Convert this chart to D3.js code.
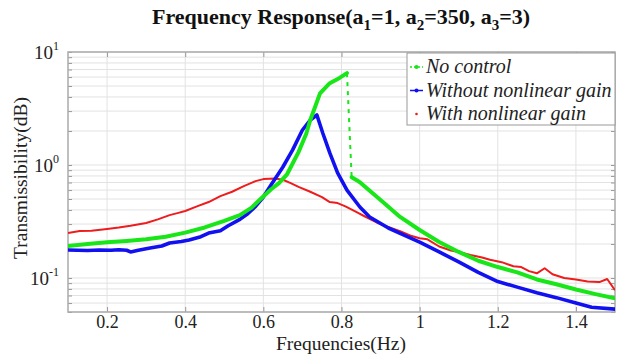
<!DOCTYPE html>
<html>
<head>
<meta charset="utf-8">
<script src="https://cdn.jsdelivr.net/npm/d3@7"></script>
<style>
  body { margin: 0; background: #fff; }
  svg { display: block; font-family: "Liberation Serif", "Times New Roman", serif; }
</style>
</head>
<body>
<svg id="chart"></svg>
<script>
// Frequency response, values

// No control (green)
const freqNoControl = [0.10, 0.15, 0.20, 0.25, 0.30, 0.35, 0.40, 0.45, 0.50, 0.54, 0.57, 0.59, 0.62, 0.64, 0.66, 0.69, 0.71, 0.72, 0.73, 0.745, 0.77, 0.795, 0.814, 0.826, 0.84, 0.85, 0.87, 0.90, 0.95, 1.00, 1.05, 1.10, 1.15, 1.20, 1.25, 1.30, 1.35, 1.40, 1.45, 1.50];
const noControl = [0.192, 0.200, 0.207, 0.213, 0.220, 0.232, 0.252, 0.280, 0.320, 0.360, 0.420, 0.490, 0.610, 0.690, 0.820, 1.30, 1.90, 2.50, 3.10, 4.30, 5.30, 5.90, 6.50, 0.780, 0.730, 0.690, 0.600, 0.490, 0.347, 0.266, 0.208, 0.170, 0.142, 0.125, 0.112, 0.097, 0.088, 0.079, 0.072, 0.066];
// index where the curve jumps down (drawn dashed)
const jumpIndex = 22;

// Without nonlinear gain (blue)
const freqWithout = [0.10, 0.15, 0.18, 0.21, 0.23, 0.25, 0.26, 0.28, 0.31, 0.34, 0.36, 0.39, 0.41, 0.44, 0.46, 0.49, 0.51, 0.54, 0.56, 0.58, 0.60, 0.62, 0.65, 0.675, 0.70, 0.72, 0.737, 0.752, 0.77, 0.79, 0.814, 0.847, 0.872, 0.92, 0.96, 1.00, 1.05, 1.10, 1.15, 1.20, 1.25, 1.30, 1.35, 1.40, 1.44, 1.50];
const withoutGain = [0.177, 0.175, 0.177, 0.176, 0.178, 0.176, 0.170, 0.176, 0.184, 0.192, 0.204, 0.210, 0.217, 0.232, 0.250, 0.262, 0.290, 0.330, 0.370, 0.430, 0.520, 0.670, 0.960, 1.36, 2.04, 2.50, 2.77, 1.92, 1.28, 0.850, 0.600, 0.425, 0.347, 0.277, 0.240, 0.208, 0.170, 0.139, 0.112, 0.093, 0.083, 0.074, 0.067, 0.060, 0.055, 0.053];

// With nonlinear gain (red)
const freqWith = [0.10, 0.13, 0.16, 0.20, 0.23, 0.26, 0.30, 0.33, 0.36, 0.38, 0.40, 0.43, 0.46, 0.49, 0.52, 0.55, 0.58, 0.60, 0.63, 0.65, 0.67, 0.69, 0.72, 0.75, 0.77, 0.79, 0.81, 0.84, 0.86, 0.89, 0.91, 0.95, 0.98, 1.00, 1.02, 1.05, 1.08, 1.10, 1.13, 1.16, 1.18, 1.21, 1.24, 1.26, 1.28, 1.30, 1.32, 1.34, 1.37, 1.40, 1.43, 1.46, 1.48, 1.50];
const withGain = [0.250, 0.260, 0.262, 0.272, 0.280, 0.290, 0.307, 0.330, 0.360, 0.375, 0.392, 0.430, 0.470, 0.530, 0.580, 0.650, 0.720, 0.750, 0.760, 0.740, 0.690, 0.640, 0.580, 0.520, 0.470, 0.460, 0.430, 0.380, 0.350, 0.310, 0.290, 0.260, 0.235, 0.225, 0.220, 0.190, 0.175, 0.170, 0.160, 0.152, 0.145, 0.138, 0.127, 0.125, 0.115, 0.110, 0.122, 0.108, 0.100, 0.097, 0.093, 0.092, 0.098, 0.078];

const xTicks = [0.2, 0.4, 0.6, 0.8, 1.0, 1.2, 1.4];
const yTicks = [0.1, 1, 10];
const legendLabels = ["No control", "Without nonlinear gain", "With nonlinear gain"];

const dimensions = {
    width: 622, height: 354,
    marginLeft: 68, marginRight: 7, marginTop: 52, marginBottom: 42
};

const svg = d3.select("#chart")
    .attr("width", dimensions.width)
    .attr("height", dimensions.height);

let x = d3.scaleLinear()
    .domain([0.1, 1.5])
    .range([dimensions.marginLeft, dimensions.width - dimensions.marginRight]);

let y = d3.scaleLog()
    .domain([0.05, 10])
    .range([dimensions.height - dimensions.marginBottom, dimensions.marginTop]);

const plotLeft = x.range()[0], plotRight = x.range()[1];
const plotTop = y.range()[1], plotBottom = y.range()[0];

// Grid lines
const grid = svg.append("g");
y.ticks().forEach(t => {
    grid.append("line")
        .attr("x1", plotLeft).attr("x2", plotRight)
        .attr("y1", y(t)).attr("y2", y(t))
        .attr("stroke", "#e2e2e2").attr("stroke-width", 1);
});
xTicks.forEach(t => {
    grid.append("line")
        .attr("x1", x(t)).attr("x2", x(t))
        .attr("y1", plotTop).attr("y2", plotBottom)
        .attr("stroke", "#e2e2e2").attr("stroke-width", 1);
});

// Axes (ticks inward, labels custom)
let xAxis = g => g
    .attr("transform", `translate(0, ${plotBottom})`)
    .call(d3.axisBottom(x).tickValues(xTicks).tickSizeInner(-5).tickSizeOuter(0).tickPadding(3)
        .tickFormat(d3.format("~g")))
    .attr("font-family", null)
    .call(g => g.select(".domain").remove())
    .call(g => g.selectAll(".tick line").attr("stroke", "#999"))
    .call(g => g.selectAll(".tick text")
        .attr("font-size", 18).attr("fill", "#222"));

let xAxisTop = g => g
    .attr("transform", `translate(0, ${plotTop})`)
    .call(d3.axisTop(x).tickValues(xTicks).tickSizeInner(-5).tickSizeOuter(0).tickFormat(""))
    .call(g => g.select(".domain").remove())
    .call(g => g.selectAll(".tick line").attr("stroke", "#999"));

let yAxis = g => g
    .attr("transform", `translate(${plotLeft}, 0)`)
    .call(d3.axisLeft(y).tickValues(y.ticks()).tickSizeInner(-4).tickSizeOuter(0).tickFormat(""))
    .call(g => g.select(".domain").remove())
    .call(g => g.selectAll(".tick line").attr("stroke", "#999"));

let yAxisRight = g => g
    .attr("transform", `translate(${plotRight}, 0)`)
    .call(d3.axisRight(y).tickValues(y.ticks()).tickSizeInner(-4).tickSizeOuter(0).tickFormat(""))
    .call(g => g.select(".domain").remove())
    .call(g => g.selectAll(".tick line").attr("stroke", "#999"));

svg.append("g").call(xAxis);
svg.append("g").call(xAxisTop);
svg.append("g").call(yAxis);
svg.append("g").call(yAxisRight);

// y tick labels as 10^n
yTicks.forEach(t => {
    const lbl = svg.append("text")
        .attr("x", plotLeft - 9)
        .attr("y", y(t) + 7)
        .attr("text-anchor", "end")
        .attr("font-size", 19)
        .attr("fill", "#222");
    lbl.append("tspan").text("10");
    lbl.append("tspan")
        .attr("dy", -9)
        .attr("font-size", 12)
        .text(Math.round(Math.log10(t)));
});

// Plot frame
svg.append("rect")
    .attr("x", plotLeft).attr("y", plotTop)
    .attr("width", plotRight - plotLeft).attr("height", plotBottom - plotTop)
    .attr("fill", "none").attr("stroke", "#aaa").attr("stroke-width", 1.5);

// Lines
svg.append("clipPath").attr("id", "plotClip")
    .append("rect")
    .attr("x", plotLeft).attr("y", plotTop)
    .attr("width", plotRight - plotLeft).attr("height", plotBottom - plotTop);

const plot = svg.append("g").attr("clip-path", "url(#plotClip)");

let line = d3.line()
    .x(d => x(d[0]))
    .y(d => y(d[1]));

const green = "#19e619", blue = "#1010f0", red = "#ee1c1c";

const greenPts = d3.zip(freqNoControl, noControl);
const bluePts = d3.zip(freqWithout, withoutGain);
const redPts = d3.zip(freqWith, withGain);

// red
plot.append("path")
    .datum(redPts)
    .attr("fill", "none").attr("stroke", red).attr("stroke-width", 2)
    .attr("stroke-linejoin", "round")
    .attr("d", line);

// blue
plot.append("path")
    .datum(bluePts)
    .attr("fill", "none").attr("stroke", blue).attr("stroke-width", 3.6)
    .attr("stroke-linejoin", "round").attr("stroke-linecap", "round")
    .attr("d", line);

// green: solid parts and dashed jump
plot.append("path")
    .datum(greenPts.slice(0, jumpIndex + 1))
    .attr("fill", "none").attr("stroke", green).attr("stroke-width", 4)
    .attr("stroke-linejoin", "round").attr("stroke-linecap", "round")
    .attr("d", line);
plot.append("path")
    .datum(greenPts.slice(jumpIndex + 1))
    .attr("fill", "none").attr("stroke", green).attr("stroke-width", 4)
    .attr("stroke-linejoin", "round").attr("stroke-linecap", "round")
    .attr("d", line);
plot.append("path")
    .datum(greenPts.slice(jumpIndex, jumpIndex + 2))
    .attr("fill", "none").attr("stroke", green).attr("stroke-width", 2)
    .attr("stroke-dasharray", "4,5")
    .attr("d", line);

// Legend
const legend = svg.append("g");
legend.append("rect")
    .attr("x", 407).attr("y", 53)
    .attr("width", plotRight - 407).attr("height", 72)
    .attr("fill", "#fff").attr("stroke", "#999").attr("stroke-width", 1);

const legendColors = [green, blue, red];
legendLabels.forEach((label, i) => {
    const ly = 67 + i * 23.5;
    if (i < 2) {
        legend.append("line")
            .attr("x1", 410).attr("x2", 423)
            .attr("y1", ly).attr("y2", ly)
            .attr("stroke", legendColors[i]).attr("stroke-width", 1.5)
            .attr("stroke-dasharray", i === 0 ? "2,2" : null);
    }
    legend.append("circle")
        .attr("cx", 416.5).attr("cy", ly).attr("r", i === 2 ? 1.3 : 2)
        .attr("fill", legendColors[i]);
    legend.append("text")
        .attr("x", 426).attr("y", ly + 6)
        .attr("font-size", 20).attr("font-style", "italic")
        .attr("fill", "#222")
        .text(label);
});

// Title
const title = svg.append("text")
    .attr("x", 341).attr("y", 24)
    .attr("text-anchor", "middle")
    .attr("font-size", 22).attr("font-weight", "bold")
    .attr("fill", "#111");
title.append("tspan").text("Frequency Response(a");
title.append("tspan").attr("dy", 6).attr("font-size", 15).text("1");
title.append("tspan").attr("dy", -6).text("=1, a");
title.append("tspan").attr("dy", 6).attr("font-size", 15).text("2");
title.append("tspan").attr("dy", -6).text("=350, a");
title.append("tspan").attr("dy", 6).attr("font-size", 15).text("3");
title.append("tspan").attr("dy", -6).text("=3)");

// Axis titles
svg.append("text")
    .attr("x", 341).attr("y", 349.5)
    .attr("text-anchor", "middle")
    .attr("font-size", 19.5).attr("fill", "#222")
    .text("Frequencies(Hz)");

svg.append("text")
    .attr("transform", `translate(27, 178) rotate(-90)`)
    .attr("text-anchor", "middle")
    .attr("font-size", 19.5).attr("fill", "#222")
    .text("Transmissibility(dB)");
</script>
</body>
</html>
